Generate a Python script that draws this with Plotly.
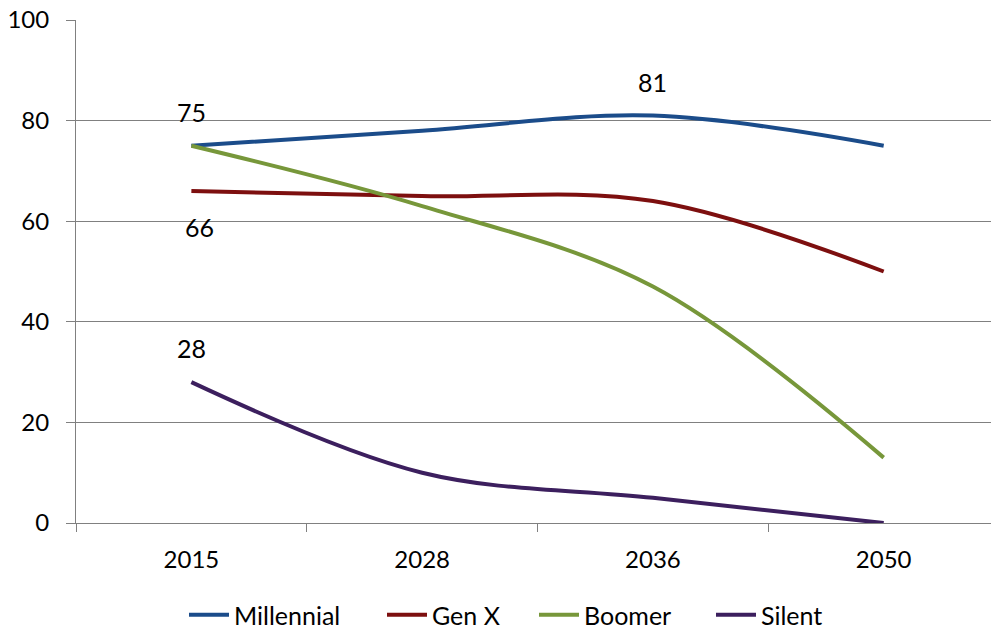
import plotly.graph_objects as go

# Categories and series values
years = ["2015", "2028", "2036", "2050"]
millennial = [75, 78, 81, 75]
gen_x = [66, 65, 64, 50]
boomer = [75, 63, 47, 13]
silent = [28, 10, 5, 0]

series_names = ["Millennial", "Gen X", "Boomer", "Silent"]
series_values = [millennial, gen_x, boomer, silent]
series_colors = ["#1B4C8A", "#7D0F0F", "#77973A", "#3C1F5E"]

# Point labels: (series index, category index, vertical offset in px, horizontal offset)
point_labels = [(0, 0, 34, 0), (1, 0, -36, 8), (3, 0, 34, 0), (0, 2, 34, 0)]

# Left edge (px) of each legend entry along the bottom row
legend_left_px = [184, 382, 534, 711]

FONT = "Lato, Carlito, Calibri, sans-serif"
W, H = 991, 629

fig = go.Figure()
legend_ids = ["legend", "legend2", "legend3", "legend4"]
for name, vals, color, lid in zip(series_names, series_values, series_colors, legend_ids):
    fig.add_trace(go.Scatter(
        x=years, y=vals, name=name, mode="lines", legend=lid,
        line=dict(color=color, width=4, shape="spline", smoothing=1.0),
    ))

for s_idx, c_idx, dy, dx in point_labels:
    val = series_values[s_idx][c_idx]
    # category axis: position the label by category index
    fig.add_annotation(
        x=c_idx, y=val, xref="x", yref="y", text=str(val), showarrow=False,
        yshift=dy, xshift=dx, font=dict(family=FONT, size=25, color="#000000"),
    )

legend_style = dict(
    orientation="h", xref="container", xanchor="left",
    yref="container", y=(H - 615) / H, yanchor="middle",
    font=dict(family=FONT, size=25, color="#000000"),
    itemwidth=40, bgcolor="rgba(0,0,0,0)",
)
legend_layout = {
    lid: dict(legend_style, x=px / W) for lid, px in zip(legend_ids, legend_left_px)
}

axis_gray = "#808080"
fig.update_layout(
    width=W, height=H,
    margin=dict(l=76, r=0, t=20, b=106),
    paper_bgcolor="white", plot_bgcolor="white",
    font=dict(family=FONT, size=24, color="#000000"),
    showlegend=True,
    xaxis=dict(
        type="category", range=[-0.5, 3.465],
        showline=True, linecolor=axis_gray, linewidth=1,
        showgrid=False, zeroline=False,
        ticks="outside", tickson="boundaries", ticklen=8, tickcolor=axis_gray,
        ticklabelstandoff=15,
    ),
    yaxis=dict(
        range=[0, 100], tickvals=[0, 20, 40, 60, 80, 100],
        showline=True, linecolor=axis_gray, linewidth=1,
        showgrid=True, gridcolor=axis_gray, gridwidth=1, zeroline=False,
        ticks="outside", ticklen=9, tickcolor=axis_gray,
        ticklabelstandoff=12,
    ),
    **legend_layout,
)

fig.write_html("out.html")
